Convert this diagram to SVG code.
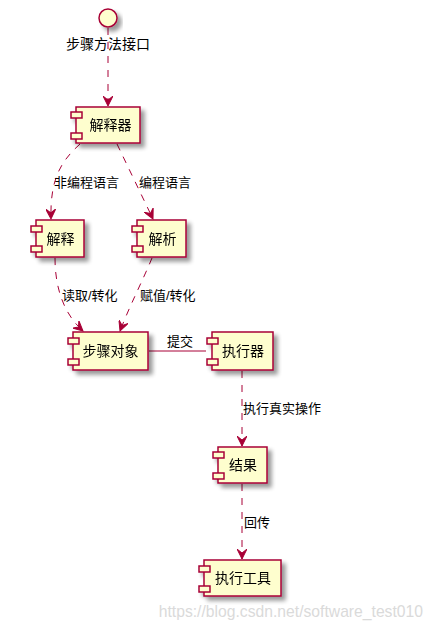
<svg xmlns="http://www.w3.org/2000/svg" width="433" height="630" viewBox="0 0 433 630">
<defs>
<filter id="sh" x="-20%" y="-20%" width="150%" height="160%">
<feGaussianBlur in="SourceAlpha" stdDeviation="2"/>
<feOffset dx="4" dy="4" result="b"/>
<feComponentTransfer><feFuncA type="linear" slope="0.4"/></feComponentTransfer>
<feMerge><feMergeNode/><feMergeNode in="SourceGraphic"/></feMerge>
</filter>
<marker id="arr" markerWidth="12" markerHeight="10" refX="10" refY="5" orient="auto" markerUnits="userSpaceOnUse">
<path d="M0,0 L10,5 L0,10 L4,5 Z" fill="#A80036" stroke="#A80036" stroke-width="1"/>
</marker>
</defs>
<style>
.box{fill:#FEFECE;stroke:#A80036;stroke-width:1.5}
.sm{fill:#FEFECE;stroke:#A80036;stroke-width:1.5}
.t{font-family:"Liberation Sans","Noto Sans CJK SC",sans-serif;font-size:14px;fill:#000;text-anchor:middle;dominant-baseline:central}
.l{font-family:"Liberation Sans","Noto Sans CJK SC",sans-serif;font-size:13px;fill:#000}
.c{fill:none;stroke:#A80036;stroke-width:1;stroke-dasharray:7,7;marker-end:url(#arr)}
</style>
<rect width="433" height="630" fill="#fff"/>

<g id="connectors">
<path class="c" d="M108,28 L108,106"/>
<path class="c" d="M80,144 C60,162 50,180 51,219"/>
<path class="c" d="M117,144 L153,219"/>
<path class="c" d="M55,258 C55,290 65,315 83,331"/>
<path class="c" d="M152,258 C143,280 130,305 120,331"/>
<path d="M149,351 L206,351" fill="none" stroke="#A80036" stroke-width="1"/>
<path class="c" d="M242,371 L242,446"/>
<path class="c" d="M242,484 L242,559"/>
<text class="l" x="54" y="187">非编程语言</text>
<text class="l" x="139" y="187">编程语言</text>
<text class="l" x="62" y="300">读取/转化</text>
<text class="l" x="140" y="300">赋值/转化</text>
<text class="l" x="167" y="346">提交</text>
<text class="l" x="243" y="413">执行真实操作</text>
<text class="l" x="244" y="527">回传</text>
</g>

<g id="interface">
<circle cx="108" cy="18" r="9" fill="#FEFECE" stroke="#A80036" stroke-width="1.5" filter="url(#sh)"/>
<text class="t" x="108" y="44">步骤方法接口</text>
</g>

<g id="jieshiqi" filter="url(#sh)">
<rect class="box" x="76" y="107" width="64" height="36"/>
<rect class="sm" x="71" y="112" width="11" height="6"/>
<rect class="sm" x="71" y="133" width="11" height="6"/>
<text class="t" x="110.5" y="125">解释器</text>
</g>

<g id="jieshi" filter="url(#sh)">
<rect class="box" x="36" y="220" width="48" height="37"/>
<rect class="sm" x="31" y="226" width="11" height="6"/>
<rect class="sm" x="31" y="246" width="11" height="6"/>
<text class="t" x="60.5" y="239">解释</text>
</g>

<g id="jiexi" filter="url(#sh)">
<rect class="box" x="137" y="220" width="49" height="37"/>
<rect class="sm" x="132" y="226" width="11" height="6"/>
<rect class="sm" x="132" y="246" width="11" height="6"/>
<text class="t" x="162.5" y="239">解析</text>
</g>

<g id="buzhouduixiang" filter="url(#sh)">
<rect class="box" x="73" y="332" width="75" height="38"/>
<rect class="sm" x="68" y="338" width="11" height="6"/>
<rect class="sm" x="68" y="359" width="11" height="6"/>
<text class="t" x="110.5" y="351">步骤对象</text>
</g>

<g id="zhixingqi" filter="url(#sh)">
<rect class="box" x="212" y="332" width="61" height="38"/>
<rect class="sm" x="207" y="338" width="11" height="6"/>
<rect class="sm" x="207" y="359" width="11" height="6"/>
<text class="t" x="243" y="351">执行器</text>
</g>

<g id="jieguo" filter="url(#sh)">
<rect class="box" x="218" y="447" width="49" height="36"/>
<rect class="sm" x="213" y="452" width="11" height="6"/>
<rect class="sm" x="213" y="473" width="11" height="6"/>
<text class="t" x="243" y="465">结果</text>
</g>

<g id="zhixinggongju" filter="url(#sh)">
<rect class="box" x="204" y="560" width="77" height="36"/>
<rect class="sm" x="199" y="566" width="11" height="6"/>
<rect class="sm" x="199" y="586" width="11" height="6"/>
<text class="t" x="243" y="578">执行工具</text>
</g>

<text x="423" y="617" font-family="Liberation Sans, sans-serif" font-size="15.7" fill="#DADADA" text-anchor="end">https://blog.csdn.net/software_test010</text>
</svg>
